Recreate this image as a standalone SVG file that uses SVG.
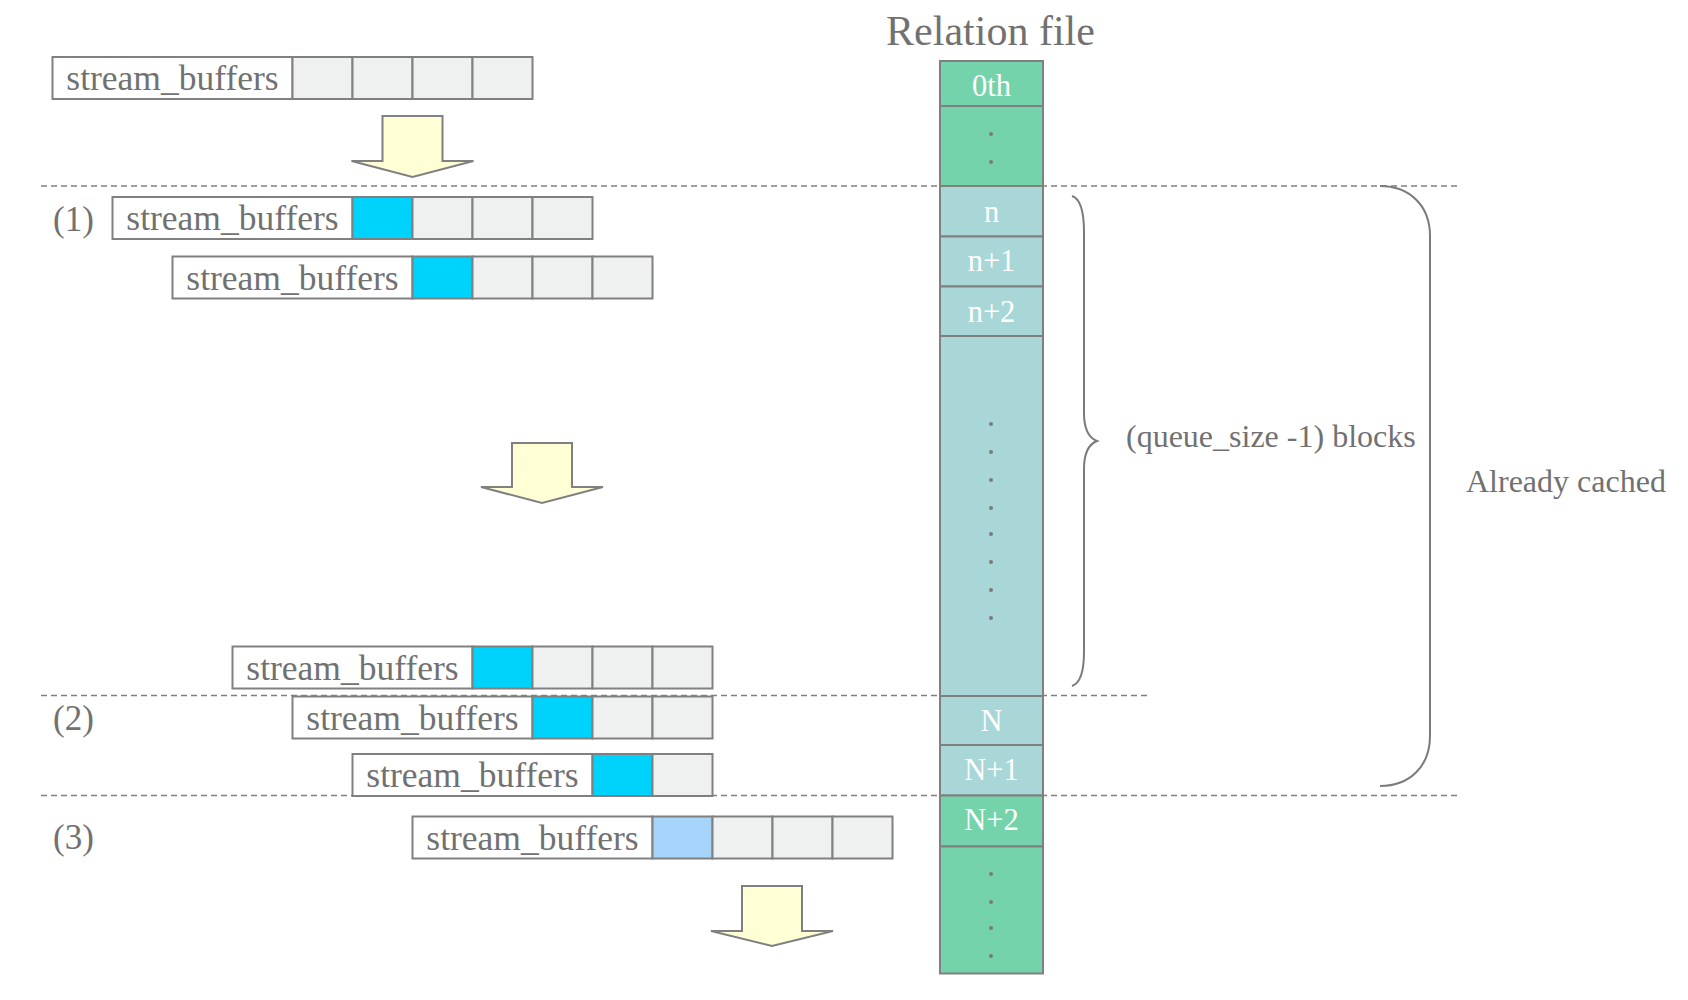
<svg xmlns="http://www.w3.org/2000/svg" width="1688" height="1000" viewBox="0 0 1688 1000">
<style>
text{font-family:"Liberation Serif","Times New Roman",serif;fill:#717171}
.lbl{fill:#fff;stroke:#808080;stroke-width:2}
.g{fill:#eff1f0;stroke:#808080;stroke-width:2}
.c{fill:#00d3fb;stroke:#808080;stroke-width:2}
.lb{fill:#a7d4fb;stroke:#808080;stroke-width:2}
.sb{font-size:35.5px;text-anchor:middle}
.num{font-size:35px}
.gr{fill:#74d3aa;stroke:#808080;stroke-width:2}
.tl{fill:#a9d6d6;stroke:#808080;stroke-width:2}
.ct{font-size:30.5px;fill:#fff;text-anchor:middle}
.dot{fill:#7a7a7a}
.dash{stroke:#808080;stroke-width:1.6;stroke-dasharray:6 4;fill:none}
.arr{fill:#ffffd6;stroke:#808080;stroke-width:2;stroke-linejoin:miter}
.br{fill:none;stroke:#7a7a7a;stroke-width:2}
.side{font-size:32px}
</style>

<g id="sep-lines">
<line class="dash" x1="41" y1="186" x2="1460" y2="186"/>
<line class="dash" x1="41" y1="695.5" x2="1150" y2="695.5"/>
<line class="dash" x1="41" y1="795.5" x2="1460" y2="795.5"/>
</g>

<g id="sb0">
<rect class="lbl" x="52.5" y="57" width="240" height="42"/>
<rect class="g" x="292.5" y="57" width="60" height="42"/>
<rect class="g" x="352.5" y="57" width="60" height="42"/>
<rect class="g" x="412.5" y="57" width="60" height="42"/>
<rect class="g" x="472.5" y="57" width="60" height="42"/>
<text class="sb" x="172.5" y="90">stream_buffers</text>
</g>

<g id="step1-label"><text class="num" x="53" y="231">(1)</text></g>
<g id="sb1">
<rect class="lbl" x="112.5" y="197" width="240" height="42"/>
<rect class="c" x="352.5" y="197" width="60" height="42"/>
<rect class="g" x="412.5" y="197" width="60" height="42"/>
<rect class="g" x="472.5" y="197" width="60" height="42"/>
<rect class="g" x="532.5" y="197" width="60" height="42"/>
<text class="sb" x="232.5" y="230">stream_buffers</text>
</g>
<g id="sb2">
<rect class="lbl" x="172.5" y="256.5" width="240" height="42"/>
<rect class="c" x="412.5" y="256.5" width="60" height="42"/>
<rect class="g" x="472.5" y="256.5" width="60" height="42"/>
<rect class="g" x="532.5" y="256.5" width="60" height="42"/>
<rect class="g" x="592.5" y="256.5" width="60" height="42"/>
<text class="sb" x="292.5" y="289.5">stream_buffers</text>
</g>

<g id="sb3">
<rect class="lbl" x="232.5" y="646.5" width="240" height="42"/>
<rect class="c" x="472.5" y="646.5" width="60" height="42"/>
<rect class="g" x="532.5" y="646.5" width="60" height="42"/>
<rect class="g" x="592.5" y="646.5" width="60" height="42"/>
<rect class="g" x="652.5" y="646.5" width="60" height="42"/>
<text class="sb" x="352.5" y="679.5">stream_buffers</text>
</g>

<g id="step2-label"><text class="num" x="53" y="730">(2)</text></g>
<g id="sb4">
<rect class="lbl" x="292.5" y="696.5" width="240" height="42"/>
<rect class="c" x="532.5" y="696.5" width="60" height="42"/>
<rect class="g" x="592.5" y="696.5" width="60" height="42"/>
<rect class="g" x="652.5" y="696.5" width="60" height="42"/>
<text class="sb" x="412.5" y="729.5">stream_buffers</text>
</g>
<g id="sb5">
<rect class="lbl" x="352.5" y="754" width="240" height="42"/>
<rect class="c" x="592.5" y="754" width="60" height="42"/>
<rect class="g" x="652.5" y="754" width="60" height="42"/>
<text class="sb" x="472.5" y="787">stream_buffers</text>
</g>

<g id="step3-label"><text class="num" x="53" y="849">(3)</text></g>
<g id="sb6">
<rect class="lbl" x="412.5" y="816.5" width="240" height="42"/>
<rect class="lb" x="652.5" y="816.5" width="60" height="42"/>
<rect class="g" x="712.5" y="816.5" width="60" height="42"/>
<rect class="g" x="772.5" y="816.5" width="60" height="42"/>
<rect class="g" x="832.5" y="816.5" width="60" height="42"/>
<text class="sb" x="532.5" y="849.5">stream_buffers</text>
</g>

<g id="arrow1"><path class="arr" d="M382.5,116 H442.5 V161 H473.5 L412.5,177 L351.5,161 H382.5 Z"/></g>
<g id="arrow2"><path class="arr" d="M512,443 H572 V487 H603 L542,503 L481,487 H512 Z"/></g>
<g id="arrow3"><path class="arr" d="M742,886 H802 V931 H833 L772,946 L711,931 H742 Z"/></g>

<g id="relation-file">
<text x="990.5" y="45" style="font-size:42px;text-anchor:middle">Relation file</text>
<rect class="gr" x="940" y="61" width="103" height="45"/>
<text class="ct" x="991.5" y="96">0th</text>
<rect class="gr" x="940" y="106" width="103" height="80"/>
<circle class="dot" cx="991" cy="134" r="2"/>
<circle class="dot" cx="991" cy="162" r="2"/>
<rect class="tl" x="940" y="186" width="103" height="50.5"/>
<text class="ct" x="991.5" y="222">n</text>
<rect class="tl" x="940" y="236.5" width="103" height="50"/>
<text class="ct" x="991.5" y="271">n+1</text>
<rect class="tl" x="940" y="286.5" width="103" height="49.5"/>
<text class="ct" x="991.5" y="322">n+2</text>
<rect class="tl" x="940" y="336" width="103" height="360"/>
<circle class="dot" cx="991" cy="424" r="2"/>
<circle class="dot" cx="991" cy="452" r="2"/>
<circle class="dot" cx="991" cy="480" r="2"/>
<circle class="dot" cx="991" cy="508" r="2"/>
<circle class="dot" cx="991" cy="534" r="2"/>
<circle class="dot" cx="991" cy="562" r="2"/>
<circle class="dot" cx="991" cy="590" r="2"/>
<circle class="dot" cx="991" cy="618" r="2"/>
<rect class="tl" x="940" y="696" width="103" height="49"/>
<text class="ct" x="991.5" y="731">N</text>
<rect class="tl" x="940" y="745" width="103" height="50.5"/>
<text class="ct" x="991.5" y="780">N+1</text>
<rect class="gr" x="940" y="795.5" width="103" height="51"/>
<text class="ct" x="991.5" y="830">N+2</text>
<rect class="gr" x="940" y="846.5" width="103" height="127"/>
<circle class="dot" cx="991" cy="874" r="2"/>
<circle class="dot" cx="991" cy="902" r="2"/>
<circle class="dot" cx="991" cy="928" r="2"/>
<circle class="dot" cx="991" cy="956" r="2"/>
</g>

<g id="queue-brace">
<path class="br" d="M1072,196 Q1084,200 1084,232 L1084,413 Q1084,436 1097,441 Q1084,446 1084,469 L1084,652 Q1084,682 1072,686"/>
<text class="side" x="1126" y="447">(queue_size -1) blocks</text>
</g>

<g id="cached-brace">
<path class="br" d="M1380,186 C1410,186 1430,206 1430,236 L1430,736 C1430,766 1410,786 1380,786"/>
<text class="side" x="1466" y="492">Already cached</text>
</g>
</svg>
